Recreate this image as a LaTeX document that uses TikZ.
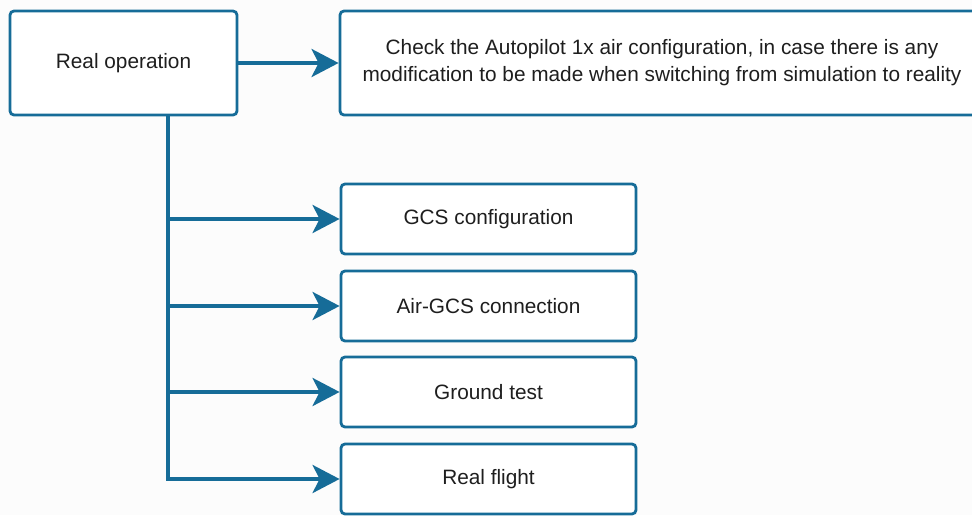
\documentclass[tikz,border=0pt]{standalone}
\usepackage{fontspec}
\setmainfont{Liberation Sans}
\usetikzlibrary{arrows.meta}
\definecolor{edgeblue}{RGB}{22,108,152}
\definecolor{txt}{RGB}{30,30,30}
\tikzset{
  box/.style={draw=edgeblue, line width=2.8pt, rounded corners=4pt, fill=white,
    text=txt, align=center, inner sep=0pt,
    font=\fontsize{20.8}{27}\selectfont},
  conn/.style={draw=edgeblue, line width=4pt,
    -{Stealth[length=27pt,width=28pt,inset=7pt]}},
  trunk/.style={draw=edgeblue, line width=4pt}
}
\begin{document}
\begin{tikzpicture}[x=1pt,y=-1pt]
\useasboundingbox (0,0) rectangle (972,515);
\clip (0,0) rectangle (972,515);
\fill[white!99!black] (0,0) rectangle (972,515);
\node[box, minimum width=227pt, minimum height=104pt] (real) at (123.5,63) {Real operation};
\node[box, minimum width=644pt, minimum height=104pt] (check) at (662,63)
  {Check the Autopilot 1x air configuration, in case there is any\\modification to be made when switching from simulation to reality};
\node[box, minimum width=295pt, minimum height=70pt] (gcs) at (488.5,219) {GCS configuration};
\node[box, minimum width=295pt, minimum height=70pt] (air) at (488.5,306) {Air-GCS connection};
\node[box, minimum width=295pt, minimum height=70pt] (ground) at (488.5,392) {Ground test};
\node[box, minimum width=295pt, minimum height=70pt] (flight) at (488.5,479) {Real flight};
\coordinate (t1) at (168,219);
\coordinate (t2) at (168,306);
\coordinate (t3) at (168,392);
\coordinate (top) at (168,115);
\draw[conn] (real.east) -- (check.west);
\draw[conn] (top) |- (flight.west);
\draw[conn] (t1) -- (gcs.west);
\draw[conn] (t2) -- (air.west);
\draw[conn] (t3) -- (ground.west);
\end{tikzpicture}
\end{document}
